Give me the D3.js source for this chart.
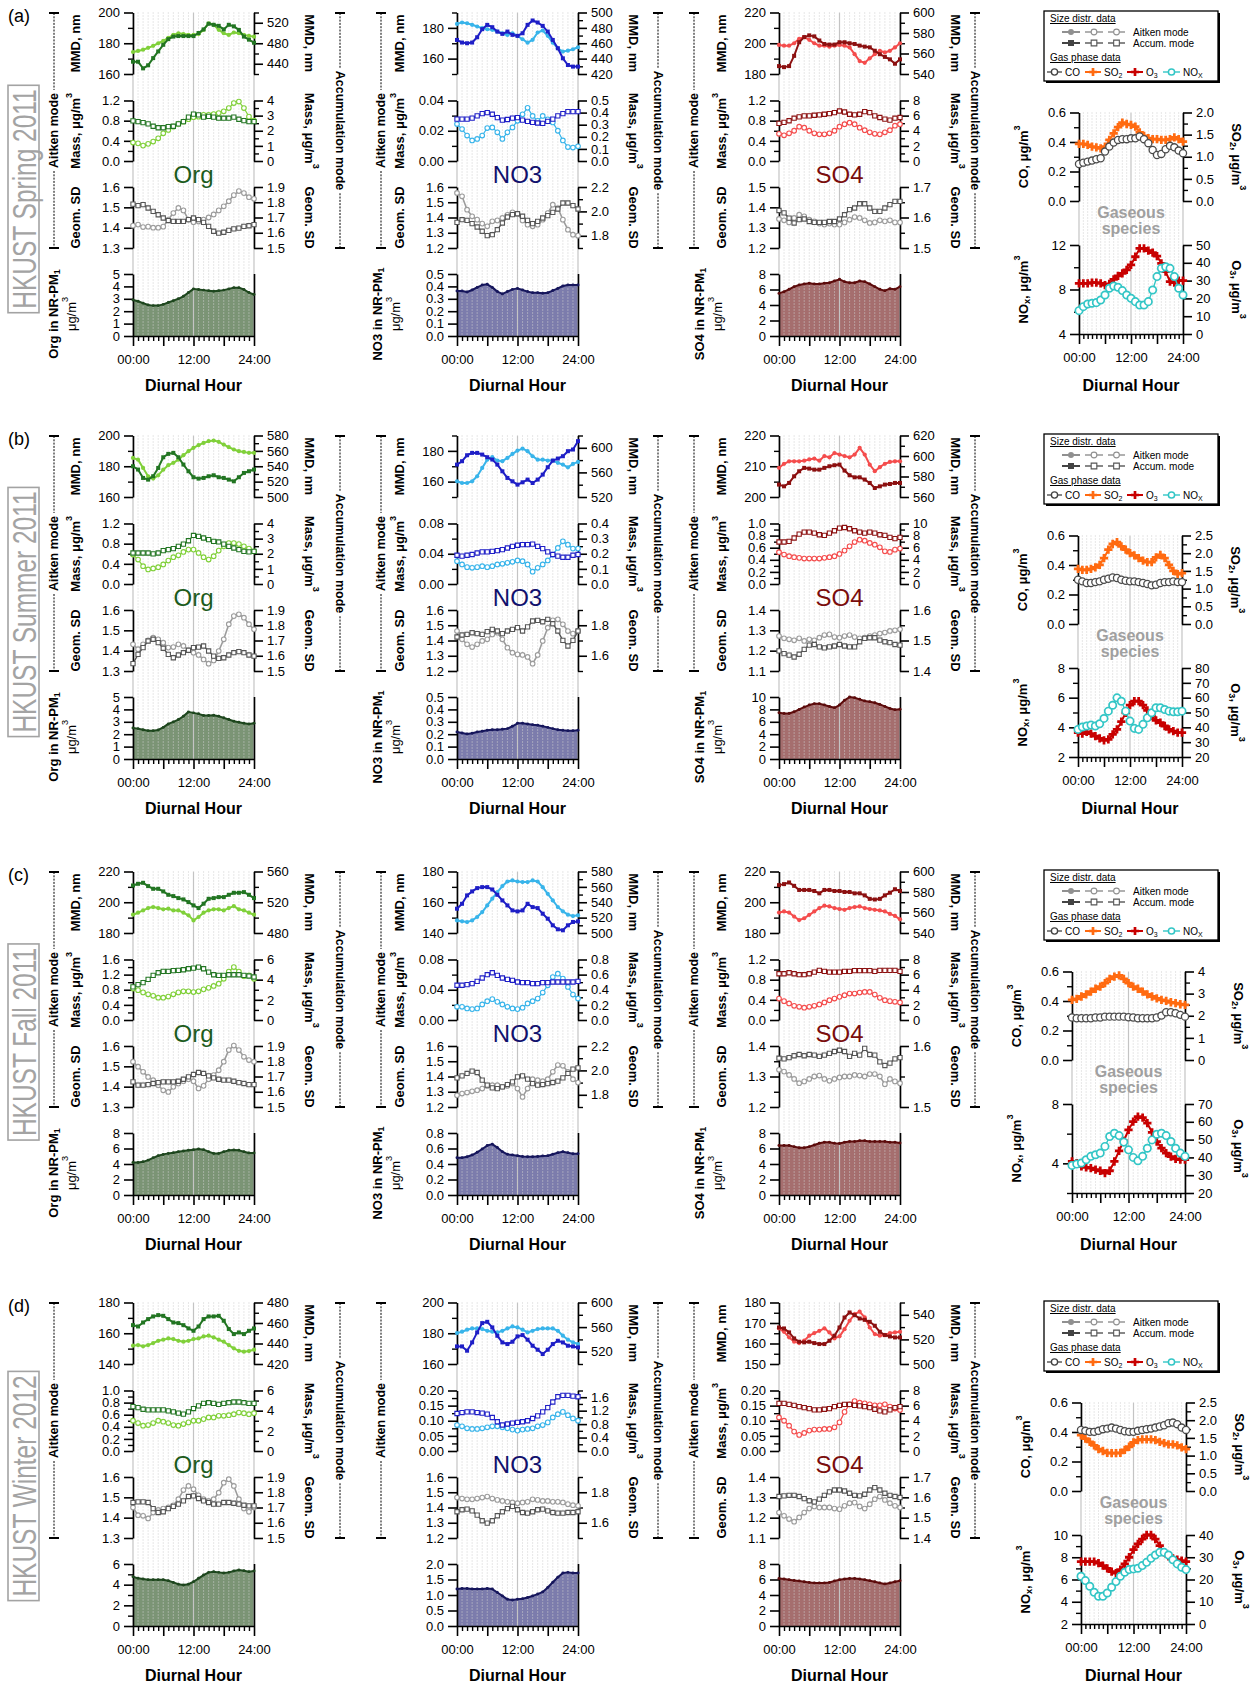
<!DOCTYPE html>
<html><head><meta charset="utf-8">
<script src="https://cdn.jsdelivr.net/npm/d3@7"></script>
<style>
body{margin:0;background:#fff;}
svg{display:block;font-family:"Liberation Sans",Arial,sans-serif;}
</style></head><body>
<svg id="c" width="1259" height="1684"></svg>
<script>
// ---------------- DATA ----------------
const HOURS = [0,1,2,3,4,5,6,7,8,9,10,11,12,13,14,15,16,17,18,19,20,21,22,23,24];
const TIME_TICKS = [0,12,24];
const TIME_TICK_LABELS = ['00:00','12:00','24:00'];
const SPECIES_NAMES = ['Org','NO3','SO4'];
const SEASONS = ['HKUST Spring 2011','HKUST Summer 2011','HKUST Fall 2011','HKUST Winter 2012'];
const PANEL_TAGS = ['(a)','(b)','(c)','(d)'];

// (a) Spring 2011
const spring_org_mmd_ait = [174.3,175,175.8,177,178.3,180,181.5,183.5,185.4,186.5,186,185.5,185.4,186,188.7,193,192,188.7,186.5,185.4,187,186.5,185.4,184.8,184.3];
const spring_org_mmd_acc = [444,444,431,437,451,464,477,488,493,494,494,494,494,500,507,518,516,514,507,516,513,506,493,487,481];
const spring_org_mass_ait = [0.365,0.35,0.305,0.34,0.385,0.45,0.55,0.615,0.68,0.735,0.78,0.83,0.87,0.88,0.915,0.915,0.93,0.95,0.985,1.05,1.15,1.18,1.05,0.88,0.8];
const spring_org_mass_acc = [2.65,2.6,2.54,2.45,2.3,2.2,2.2,2.27,2.3,2.45,2.6,2.9,3.1,3.05,2.9,2.95,2.9,2.83,2.83,2.83,2.9,2.76,2.67,2.6,2.6];
const spring_org_gsd_ait = [1.41,1.415,1.403,1.405,1.4,1.4,1.405,1.44,1.472,1.497,1.485,1.44,1.427,1.43,1.44,1.45,1.465,1.485,1.505,1.53,1.56,1.58,1.57,1.55,1.542];
const spring_org_gsd_acc = [1.788,1.778,1.784,1.762,1.74,1.718,1.697,1.68,1.675,1.675,1.675,1.686,1.697,1.686,1.668,1.642,1.61,1.598,1.603,1.616,1.625,1.63,1.642,1.646,1.653];
const spring_org_conc = [2.9,2.8,2.65,2.5,2.45,2.45,2.55,2.7,2.85,3.0,3.2,3.5,3.8,3.75,3.7,3.65,3.6,3.65,3.7,3.8,3.9,3.9,3.75,3.5,3.35];
const spring_no3_mmd_ait = [182.6,183.5,183,182,180.9,179.8,179.1,178.7,177.6,176.5,175.4,176.5,174.8,172.6,170.4,172.2,177,178.3,174.8,170.4,166.7,164.6,165.2,166.1,167.4];
const spring_no3_mmd_acc = [464.3,460.9,460,460.9,467.8,478.3,483.9,480.9,475.2,472.2,475.2,470.9,469.6,473,483.9,489.6,487,482.6,475.2,464.3,453.5,440.4,431.7,429.6,429.6];
const spring_no3_mass_ait = [0.0244,0.0211,0.0168,0.0136,0.0146,0.0168,0.0218,0.0222,0.019,0.0146,0.019,0.0222,0.0266,0.0309,0.0352,0.0298,0.0266,0.0298,0.0276,0.0255,0.02,0.0136,0.0092,0.0089,0.0097];
const spring_no3_mass_acc = [0.346,0.346,0.346,0.354,0.373,0.392,0.4,0.386,0.359,0.338,0.343,0.354,0.359,0.338,0.327,0.319,0.314,0.311,0.327,0.346,0.373,0.392,0.408,0.408,0.408];
const spring_no3_gsd_ait = [1.561,1.539,1.451,1.408,1.386,1.36,1.342,1.375,1.381,1.397,1.418,1.434,1.425,1.381,1.353,1.342,1.353,1.386,1.429,1.484,1.462,1.386,1.32,1.287,1.281];
const spring_no3_gsd_acc = [1.91,1.932,1.927,1.9,1.872,1.837,1.801,1.809,1.85,1.905,1.954,1.973,1.981,1.96,1.927,1.9,1.918,1.946,1.965,1.992,2.02,2.069,2.069,2.047,2.02];
const spring_no3_conc = [0.363,0.363,0.355,0.371,0.392,0.411,0.417,0.392,0.358,0.339,0.358,0.376,0.384,0.371,0.358,0.349,0.349,0.344,0.349,0.366,0.384,0.403,0.411,0.411,0.411];
const spring_so4_mmd_ait = [198.9,198.4,198.4,200,202.9,204,202.2,200,198.4,198.4,197.8,198.4,198.9,198.4,197.3,192.9,188.4,187.3,190.2,192.9,195.1,194,195.1,197.3,200];
const spring_so4_mmd_acc = [547.7,546.7,547.7,557.7,571,576,577.7,576.7,572.7,569.3,568.7,568.7,571,571,570,569.3,567.7,566.7,566,562.7,559.3,556.7,554.3,550,554.3];
const spring_so4_mass_ait = [0.54,0.51,0.55,0.6,0.68,0.66,0.6,0.55,0.53,0.53,0.55,0.6,0.68,0.73,0.76,0.73,0.66,0.61,0.57,0.54,0.53,0.57,0.61,0.7,0.73];
const spring_so4_mass_acc = [4.97,5.1,5.32,5.66,5.84,5.97,5.97,6.05,6.1,6.18,6.27,6.4,6.61,6.48,6.18,6.1,6.18,6.53,6.4,5.97,5.75,5.53,5.4,5.66,5.75];
const spring_so4_gsd_ait = [1.343,1.336,1.326,1.348,1.364,1.356,1.339,1.331,1.32,1.315,1.32,1.315,1.315,1.326,1.339,1.352,1.348,1.336,1.323,1.326,1.336,1.331,1.336,1.326,1.326];
const spring_so4_gsd_acc = [1.623,1.615,1.598,1.582,1.593,1.595,1.587,1.584,1.584,1.584,1.587,1.587,1.595,1.609,1.626,1.631,1.645,1.645,1.631,1.62,1.62,1.631,1.642,1.653,1.653];
const spring_so4_conc = [5.5,5.72,6.02,6.37,6.58,6.71,6.8,6.71,6.71,6.8,6.88,7.1,7.31,7.01,6.88,6.88,7.1,7.01,6.71,6.37,6.02,5.85,6.11,6.02,6.37];
const spring_co = [0.251,0.26,0.267,0.274,0.283,0.29,0.335,0.369,0.396,0.414,0.419,0.419,0.425,0.425,0.437,0.419,0.392,0.346,0.312,0.319,0.351,0.374,0.364,0.342,0.324];
const spring_so2 = [1.29,1.29,1.27,1.23,1.21,1.19,1.23,1.38,1.53,1.67,1.77,1.74,1.72,1.68,1.55,1.47,1.42,1.4,1.4,1.38,1.38,1.4,1.44,1.4,1.34];
const spring_o3 = [28.5,28.5,28.5,28.8,28.8,28.5,27.5,28.1,30.7,32.6,34.1,36,38.8,43.4,48.1,48.1,46.8,45.7,43.8,39.7,35,29.4,28.8,30,30];
const spring_nox = [6.1,6.46,6.7,6.76,6.82,7.06,7.51,8.11,8.32,8.2,7.9,7.51,7.21,6.91,6.61,6.61,6.91,7.96,9.16,9.9,10.05,9.9,9.16,8.11,7.51];

// (b) Summer 2011
const summer_org_mmd_ait = [185.4,184.3,178.9,173.5,172,174.1,177.8,180.7,182.2,184.3,187.2,189.8,192,193.7,195.2,196.3,196.7,195.9,194.1,192.4,190.9,189.8,189.3,188.7,188.7];
const summer_org_mmd_acc = [540,535.7,524.8,522.6,527,537.8,551.7,556.1,557.4,551.7,542.2,533.5,525.7,523.9,524.8,527,528.3,525.7,524.8,522.6,520.4,525.7,531.3,533.5,535.7];
const summer_org_mass_ait = [0.584,0.485,0.354,0.289,0.308,0.334,0.387,0.466,0.531,0.57,0.636,0.682,0.682,0.616,0.531,0.485,0.551,0.662,0.748,0.813,0.813,0.793,0.748,0.702,0.649];
const summer_org_mass_acc = [2.05,2.05,2.05,2.05,1.99,2.05,2.21,2.27,2.34,2.49,2.64,2.86,3.21,3.15,3.04,2.93,2.82,2.78,2.64,2.49,2.38,2.27,2.16,2.12,2.16];
const summer_org_gsd_ait = [1.431,1.407,1.431,1.451,1.464,1.456,1.439,1.415,1.418,1.431,1.423,1.402,1.39,1.379,1.357,1.336,1.352,1.398,1.456,1.53,1.57,1.579,1.562,1.53,1.505];
const summer_org_gsd_acc = [1.548,1.609,1.653,1.697,1.708,1.686,1.649,1.609,1.587,1.605,1.62,1.636,1.653,1.657,1.664,1.631,1.598,1.583,1.587,1.605,1.62,1.627,1.62,1.605,1.598];
const summer_org_conc = [2.5,2.45,2.36,2.28,2.28,2.34,2.55,2.83,2.99,3.18,3.45,3.8,3.72,3.64,3.51,3.51,3.53,3.45,3.32,3.18,3.04,2.96,2.88,2.83,2.88];
const summer_no3_mmd_ait = [160.2,159.1,159.1,160.2,163.5,168.9,174.3,175.9,173.7,173.3,175.4,178,180.2,181.5,179.8,176.5,174.3,174.3,173.7,173.7,172.2,171.1,169.3,171.5,172.8];
const summer_no3_mmd_acc = [572.7,578.2,587.9,591.7,591.7,589,584.7,580.9,572.7,561.8,551,545.5,540.1,543.9,548.3,542.8,548.3,556.4,568.4,579.2,582.5,586.3,594.5,597.2,610.8];
const summer_no3_mass_ait = [0.0302,0.0258,0.0223,0.0214,0.0223,0.0236,0.0223,0.0236,0.0258,0.0267,0.028,0.0293,0.0311,0.0302,0.0258,0.0162,0.0214,0.0258,0.0311,0.0389,0.0477,0.0564,0.052,0.0468,0.0468];
const summer_no3_mass_acc = [0.19,0.184,0.19,0.195,0.205,0.212,0.212,0.216,0.221,0.227,0.238,0.249,0.256,0.26,0.26,0.264,0.249,0.234,0.212,0.195,0.184,0.177,0.177,0.19,0.195];
const summer_no3_gsd_ait = [1.462,1.408,1.375,1.357,1.375,1.397,1.408,1.44,1.451,1.408,1.353,1.32,1.309,1.305,1.292,1.248,1.305,1.397,1.484,1.532,1.539,1.506,1.462,1.445,1.462];
const summer_no3_gsd_acc = [1.723,1.736,1.74,1.751,1.745,1.74,1.758,1.773,1.762,1.745,1.762,1.773,1.784,1.762,1.789,1.828,1.832,1.823,1.839,1.81,1.762,1.701,1.664,1.701,1.762];
const summer_no3_conc = [0.217,0.209,0.201,0.207,0.217,0.223,0.231,0.236,0.236,0.239,0.245,0.264,0.288,0.288,0.283,0.277,0.272,0.264,0.255,0.245,0.236,0.231,0.228,0.228,0.231];
const summer_so4_mmd_ait = [209.5,210.8,211.6,211.6,211.6,211.8,212.2,212.5,211.8,213.3,212.9,214.3,213.8,213.3,212.9,213.8,216,213.8,210.5,208.4,209.7,210.8,211.4,211.6,211.6];
const summer_so4_mmd_acc = [572.1,570.4,573.7,580.2,585.1,588.4,587.7,586.7,586.7,588.4,590,591,591.6,585.8,581.2,579.2,579.2,577,573.7,568.8,570.4,572.1,572.7,573.7,573.7];
const summer_so4_mass_ait = [0.525,0.486,0.459,0.443,0.432,0.421,0.421,0.421,0.421,0.432,0.443,0.459,0.497,0.552,0.623,0.694,0.732,0.716,0.678,0.65,0.607,0.541,0.53,0.568,0.585];
const summer_so4_mass_acc = [6.94,6.94,7.05,7.6,8.25,8.58,8.58,8.42,8.14,8.03,8.42,8.8,9.23,9.34,9.13,8.8,8.58,8.42,8.58,8.42,8.14,8.03,7.7,7.49,7.7];
const summer_so4_gsd_ait = [1.272,1.261,1.256,1.251,1.261,1.248,1.256,1.251,1.264,1.277,1.28,1.267,1.264,1.272,1.277,1.267,1.261,1.264,1.272,1.277,1.284,1.289,1.297,1.3,1.305];
const summer_so4_gsd_acc = [1.466,1.457,1.452,1.446,1.455,1.471,1.485,1.487,1.479,1.476,1.479,1.482,1.487,1.482,1.479,1.479,1.496,1.507,1.509,1.509,1.501,1.496,1.493,1.487,1.485];
const summer_so4_conc = [7.45,7.34,7.34,7.61,7.99,8.37,8.7,8.91,8.91,8.7,8.48,8.26,8.7,9.46,10,9.89,9.62,9.35,9.24,9.08,8.8,8.48,8.15,7.93,8.04];
const summer_co = [0.3,0.289,0.278,0.278,0.284,0.289,0.3,0.307,0.316,0.312,0.3,0.293,0.289,0.289,0.284,0.278,0.271,0.262,0.266,0.278,0.284,0.284,0.289,0.284,0.284];
const summer_so2 = [1.56,1.53,1.53,1.56,1.6,1.67,1.86,2.1,2.26,2.31,2.19,2.1,2,1.94,1.86,1.79,1.75,1.75,1.88,1.95,1.86,1.67,1.5,1.41,1.44];
const summer_o3 = [36.4,35.7,37,35.7,34.1,32.6,31.2,31.9,35.3,38.6,43.8,49.8,54.9,57.6,57.6,54.9,51.4,47.6,44.7,43.1,40.9,38.6,37.5,36.4,36.4];
const summer_nox = [3.86,4.02,4.09,4.15,4.09,4.24,4.6,5.09,5.49,5.99,5.76,5.09,4.42,3.93,3.86,4.2,4.64,4.98,5.32,5.32,5.2,5.09,5.05,5.05,5.09];

// (c) Fall 2011
const fall_org_mmd_ait = [191.9,193.2,194.7,196.2,196.9,196.2,195.4,195.8,194.7,194.7,193.2,191.5,188.2,190.4,193.2,194.7,195.4,195.4,194.7,196.2,197.5,195.4,194.7,193.2,191.9];
const fall_org_mmd_acc = [541.8,544,545.3,541,537.5,537.5,534.1,529.7,528,525.4,523.7,520.2,515.9,512.4,518.1,524.5,525.4,526.7,526.7,529.7,532.3,532.3,533.2,529.7,525.4];
const fall_org_mass_ait = [0.83,0.79,0.73,0.68,0.64,0.59,0.59,0.62,0.68,0.73,0.76,0.76,0.74,0.76,0.81,0.85,0.9,0.96,1.09,1.28,1.4,1.28,1.16,1.18,1.09];
const fall_org_mass_acc = [3.28,3.51,3.7,4.03,4.43,4.69,4.82,4.82,4.89,4.92,4.98,5.08,5.15,5.25,5.08,4.75,4.49,4.43,4.43,4.49,4.49,4.49,4.43,4.36,4.26];
const fall_org_gsd_ait = [1.523,1.498,1.473,1.448,1.432,1.407,1.382,1.374,1.399,1.415,1.427,1.437,1.427,1.391,1.404,1.437,1.457,1.481,1.523,1.58,1.602,1.58,1.547,1.531,1.523];
const fall_org_gsd_acc = [1.665,1.643,1.643,1.647,1.654,1.66,1.665,1.665,1.665,1.669,1.682,1.698,1.713,1.726,1.72,1.704,1.691,1.682,1.676,1.676,1.669,1.66,1.654,1.647,1.647];
const fall_org_conc = [4.19,4.19,4.28,4.5,4.8,5.07,5.24,5.37,5.46,5.59,5.68,5.76,5.85,5.94,5.85,5.59,5.37,5.37,5.59,5.76,5.81,5.76,5.59,5.41,5.41];
const fall_no3_mmd_ait = [148.2,147.6,147.1,148.2,150.4,153.6,157.9,162.3,166.6,170.5,173.5,174.2,173.5,173.1,173.1,174.2,173.5,169.8,165.5,161.2,156.9,154.1,151.9,151,151.5];
const fall_no3_mmd_acc = [531.6,538,548.9,554.1,558.4,559.7,559.7,556.6,549.7,542.4,535.9,529.4,528.1,529.4,538,533.7,532.4,525.1,518.6,510,504.8,503.5,510,514.3,515.1];
const fall_no3_mass_ait = [0.0175,0.0175,0.0153,0.0144,0.0153,0.0205,0.0249,0.0276,0.024,0.0205,0.0175,0.0153,0.0144,0.0162,0.0219,0.0249,0.0284,0.0363,0.0459,0.0568,0.0612,0.0547,0.0437,0.0337,0.0284];
const fall_no3_mass_acc = [0.459,0.459,0.468,0.481,0.511,0.555,0.599,0.625,0.59,0.555,0.538,0.525,0.503,0.494,0.494,0.481,0.481,0.494,0.494,0.503,0.503,0.503,0.503,0.503,0.511];
const fall_no3_gsd_ait = [1.277,1.288,1.295,1.303,1.31,1.321,1.338,1.343,1.343,1.332,1.338,1.354,1.321,1.266,1.321,1.382,1.376,1.369,1.382,1.431,1.475,1.47,1.431,1.382,1.36];
const fall_no3_gsd_acc = [1.939,1.955,1.975,1.994,1.983,1.92,1.879,1.857,1.851,1.865,1.884,1.906,1.947,1.955,1.928,1.892,1.879,1.884,1.892,1.901,1.912,1.939,1.975,2.01,2.021];
const fall_no3_conc = [0.481,0.481,0.494,0.516,0.551,0.594,0.638,0.656,0.612,0.559,0.525,0.516,0.507,0.498,0.494,0.494,0.498,0.503,0.507,0.525,0.546,0.559,0.546,0.533,0.533];
const fall_so4_mmd_ait = [193.3,194,193.3,190.7,188.4,189.6,191.8,194,196.2,197.8,197.3,196.2,195.6,195.1,196.2,196.9,197.3,196.2,195.6,195.1,194.7,194,192.4,191.1,188.9];
const fall_so4_mmd_acc = [586.7,587.7,589.3,586,582,582,582,581,578.7,582,582,581,581,580,580,578.7,578.7,576.7,573.3,572.7,573.3,576.7,579.3,582.7,581];
const fall_so4_mass_ait = [0.426,0.374,0.328,0.282,0.262,0.243,0.262,0.282,0.308,0.348,0.393,0.426,0.459,0.492,0.525,0.525,0.544,0.557,0.557,0.505,0.439,0.393,0.374,0.361,0.348];
const fall_so4_mass_acc = [6.12,6.12,6.25,6.12,5.99,5.99,6.12,6.34,6.56,6.43,6.34,6.34,6.34,6.43,6.43,6.52,6.52,6.52,6.52,6.43,6.56,6.56,6.56,6.56,6.43];
const fall_so4_gsd_ait = [1.322,1.316,1.305,1.292,1.278,1.284,1.292,1.3,1.303,1.292,1.286,1.292,1.297,1.3,1.3,1.305,1.303,1.3,1.308,1.308,1.3,1.275,1.292,1.284,1.278];
const fall_so4_gsd_acc = [1.58,1.579,1.581,1.584,1.586,1.584,1.586,1.585,1.583,1.585,1.588,1.591,1.593,1.591,1.583,1.588,1.585,1.596,1.586,1.585,1.574,1.568,1.572,1.579,1.581];
const fall_so4_conc = [6.38,6.38,6.38,6.24,6.11,6.11,6.24,6.46,6.68,6.81,6.81,6.68,6.64,6.81,6.9,6.9,6.99,6.99,6.9,6.9,6.9,6.9,6.81,6.81,6.72];
const fall_co = [0.288,0.283,0.283,0.283,0.283,0.288,0.288,0.294,0.294,0.294,0.294,0.294,0.29,0.288,0.283,0.283,0.283,0.283,0.288,0.301,0.324,0.324,0.317,0.306,0.294];
const fall_so2 = [2.72,2.76,2.87,2.97,3.09,3.22,3.32,3.47,3.67,3.77,3.82,3.67,3.47,3.32,3.22,3.09,2.97,2.87,2.79,2.72,2.67,2.61,2.57,2.52,2.49];
const fall_o3 = [37.7,36.8,34.9,34.4,34,33.1,32.5,31.2,32.5,37.7,43.7,49.3,55.4,60.1,62.9,62.4,59.2,54.1,48.9,45.2,42.4,40.5,39.2,38.7,38.7];
const fall_nox = [3.86,3.95,4.02,4.24,4.47,4.58,4.69,5.14,5.81,6.03,5.87,5.43,4.91,4.4,4.17,4.47,5.02,5.58,5.96,6.03,5.87,5.47,5.02,4.69,4.47];

// (d) Winter 2012
const winter_org_mmd_ait = [151.9,152.3,151.5,152.3,153.6,155.1,155.8,156.6,156.2,155.1,154.5,155.1,156.2,156.6,157.9,158.4,157.3,155.8,154.5,152.3,150.2,148.6,148,148.4,149.3];
const winter_org_mmd_acc = [457.9,456.6,460.5,463.8,466.4,467.7,467,463.8,460.5,459.9,457.9,454.7,452.4,456.6,463.8,466.4,466.4,467,462.2,454.1,449.2,450.8,449.2,452.4,454.7];
const winter_org_mass_ait = [0.5,0.462,0.418,0.429,0.462,0.5,0.484,0.462,0.429,0.418,0.446,0.473,0.5,0.5,0.527,0.554,0.554,0.582,0.582,0.592,0.609,0.636,0.625,0.609,0.625];
const winter_org_mass_acc = [4.4,4.3,4.14,4.08,4.08,4.08,4.08,3.98,3.88,3.75,3.65,3.88,4.21,4.47,4.73,4.79,4.73,4.63,4.73,4.79,4.86,4.86,4.79,4.73,4.73];
const winter_org_gsd_ait = [1.45,1.412,1.409,1.396,1.425,1.438,1.445,1.45,1.461,1.491,1.536,1.556,1.54,1.51,1.491,1.483,1.491,1.523,1.572,1.589,1.556,1.491,1.445,1.429,1.45];
const winter_org_gsd_acc = [1.733,1.737,1.737,1.733,1.693,1.667,1.672,1.693,1.707,1.722,1.743,1.772,1.776,1.759,1.743,1.733,1.722,1.722,1.733,1.733,1.728,1.722,1.715,1.711,1.711];
const winter_org_conc = [4.77,4.61,4.54,4.48,4.48,4.48,4.48,4.38,4.22,4.05,3.96,4.05,4.28,4.61,4.93,5.19,5.26,5.19,5.13,5.19,5.32,5.42,5.35,5.26,5.32];
const winter_no3_mmd_ait = [180.1,181,182.3,183.1,183.1,182.7,181.6,181,180.5,181.6,183.1,184.4,183.8,182.3,180.5,181.6,182.7,183.1,183.1,183.1,181.6,178.4,175.8,174.1,173];
const winter_no3_mmd_acc = [528.6,528.6,521.6,535.1,551.4,566.5,568.6,559.5,545.9,535.1,532.4,536.2,544.9,547,539.5,529.7,523.2,516.2,523.2,532.4,537.8,535.1,529.7,528.6,527];
const winter_no3_mass_ait = [0.0859,0.0815,0.075,0.0728,0.0728,0.075,0.0783,0.0815,0.0815,0.0783,0.075,0.0707,0.0674,0.0707,0.0728,0.075,0.0815,0.0859,0.0946,0.1109,0.1217,0.1293,0.1185,0.1076,0.1];
const winter_no3_mass_acc = [1.115,1.144,1.164,1.164,1.144,1.125,1.095,0.998,0.87,0.773,0.802,0.831,0.851,0.87,0.9,0.968,1.047,1.164,1.291,1.458,1.614,1.653,1.653,1.634,1.614];
const winter_no3_gsd_ait = [1.465,1.459,1.454,1.454,1.459,1.465,1.472,1.459,1.45,1.443,1.437,1.433,1.428,1.433,1.437,1.454,1.45,1.443,1.443,1.437,1.437,1.433,1.422,1.415,1.411];
const winter_no3_gsd_acc = [1.672,1.685,1.689,1.678,1.65,1.613,1.598,1.613,1.646,1.672,1.693,1.707,1.685,1.667,1.663,1.672,1.685,1.689,1.678,1.667,1.663,1.663,1.667,1.667,1.672];
const winter_no3_conc = [1.19,1.21,1.21,1.19,1.19,1.19,1.21,1.19,1.08,0.97,0.86,0.84,0.86,0.88,0.92,0.97,1.03,1.1,1.24,1.41,1.57,1.71,1.73,1.71,1.71];
const winter_so4_mmd_ait = [167.4,165.7,163,160.9,160.2,161.4,163.8,165.1,166.2,167.4,165.4,162.5,163.5,167,171.1,174.3,175.5,172.7,167.8,164.6,163.8,164.1,165.1,165.4,165.7];
const winter_so4_mmd_acc = [529.7,528.9,525.7,520.8,518.1,517.6,518.1,517,516.2,516.2,518.9,523,529.7,537.8,541.9,539.7,537,535.9,534.3,531.1,526.2,523.5,522.4,521.6,521.6];
const winter_so4_mass_ait = [0.1109,0.1,0.0837,0.0641,0.0533,0.0598,0.0674,0.0707,0.0707,0.0728,0.0728,0.0783,0.0946,0.1293,0.1543,0.1652,0.1598,0.1576,0.1543,0.1511,0.1511,0.1543,0.1467,0.1402,0.1359];
const winter_so4_mass_acc = [6.3,6.3,6.17,6.04,5.87,5.74,5.61,5.43,5.43,5.52,5.61,5.87,6.04,6.17,6.17,6.04,5.96,5.87,5.74,5.52,5.3,5.17,5.43,5.74,5.87];
const winter_so4_gsd_ait = [1.225,1.209,1.193,1.18,1.201,1.225,1.245,1.255,1.25,1.25,1.25,1.245,1.242,1.258,1.271,1.274,1.255,1.245,1.266,1.291,1.304,1.287,1.271,1.258,1.25];
const winter_so4_gsd_acc = [1.604,1.607,1.61,1.61,1.604,1.594,1.583,1.578,1.591,1.61,1.627,1.636,1.636,1.631,1.62,1.61,1.607,1.615,1.636,1.648,1.636,1.62,1.61,1.604,1.599];
const winter_so4_conc = [6.14,6.05,5.97,5.88,5.8,5.71,5.62,5.54,5.54,5.54,5.62,5.8,5.97,6.05,6.14,6.14,6.05,5.97,5.84,5.71,5.54,5.41,5.54,5.71,5.84];
const winter_co = [0.414,0.408,0.401,0.401,0.408,0.419,0.423,0.43,0.423,0.414,0.405,0.401,0.401,0.408,0.414,0.419,0.423,0.43,0.437,0.446,0.46,0.464,0.453,0.43,0.414];
const winter_so2 = [1.58,1.48,1.39,1.29,1.18,1.13,1.08,1.07,1.07,1.08,1.16,1.25,1.37,1.44,1.46,1.46,1.46,1.44,1.39,1.35,1.32,1.32,1.29,1.23,1.18];
const winter_o3 = [28,28,28,28,27.4,26.2,25,23.5,22.9,24.4,27,30,33.4,36,38.2,40,40,38.2,35.2,32.2,30.4,29.5,28.9,28.5,28];
const winter_nox = [6.29,5.9,5.39,4.85,4.49,4.49,4.79,5.3,5.81,6.29,6.65,6.89,6.95,7.01,7.25,7.54,7.9,8.2,8.44,8.44,8.2,7.78,7.4,7.1,6.89];

// axis specs: domain, labelled ticks, minor step, decimals
function A(d0,d1,t,m,f){return {d:[d0,d1],t:t,m:m,f:f};}
const GSD_ORG_L = A(1.3,1.6,[1.3,1.4,1.5,1.6],0,1), GSD_ORG_R = A(1.5,1.9,[1.5,1.6,1.7,1.8,1.9],0,1);
const AXES = {
 spring:{
  org:{mmdL:A(160,200,[160,180,200],10,0),mmdR:A(420,540,[440,480,520],20,0),massL:A(0,1.2,[0,0.4,0.8,1.2],0.2,1),massR:A(0,4,[0,1,2,3,4],0.5,0),gsdL:GSD_ORG_L,gsdR:GSD_ORG_R,conc:A(0,5,[0,1,2,3,4,5],0,0)},
  no3:{mmdL:A(150,190,[160,180],10,0),mmdR:A(420,500,[420,440,460,480,500],10,0),massL:A(0,0.04,[0,0.02,0.04],0.01,2),massR:A(0,0.5,[0,0.1,0.2,0.3,0.4,0.5],0,1),gsdL:A(1.2,1.6,[1.2,1.3,1.4,1.5,1.6],0,1),gsdR:A(1.7,2.2,[1.8,2.0,2.2],0.1,1),conc:A(0,0.5,[0,0.1,0.2,0.3,0.4,0.5],0,1)},
  so4:{mmdL:A(180,220,[180,200,220],10,0),mmdR:A(540,600,[540,560,580,600],10,0),massL:A(0,1.2,[0,0.4,0.8,1.2],0.2,1),massR:A(0,8,[0,2,4,6,8],1,0),gsdL:A(1.2,1.5,[1.2,1.3,1.4,1.5],0,1),gsdR:A(1.5,1.7,[1.5,1.6,1.7],0.05,1),conc:A(0,8,[0,2,4,6,8],0,0)},
  gas:{co:A(0,0.6,[0,0.2,0.4,0.6],0.1,1),so2:A(0,2,[0,0.5,1,1.5,2],0.25,1),nox:A(4,12,[4,8,12],2,0),o3:A(0,50,[0,10,20,30,40,50],0,0)}
 },
 summer:{
  org:{mmdL:A(160,200,[160,180,200],10,0),mmdR:A(500,580,[500,520,540,560,580],10,0),massL:A(0,1.2,[0,0.4,0.8,1.2],0.2,1),massR:A(0,4,[0,1,2,3,4],0.5,0),gsdL:GSD_ORG_L,gsdR:GSD_ORG_R,conc:A(0,5,[0,1,2,3,4,5],0,0)},
  no3:{mmdL:A(150,190,[160,180],10,0),mmdR:A(520,620,[520,560,600],20,0),massL:A(0,0.08,[0,0.04,0.08],0.02,2),massR:A(0,0.4,[0,0.1,0.2,0.3,0.4],0.05,1),gsdL:A(1.2,1.6,[1.2,1.3,1.4,1.5,1.6],0,1),gsdR:A(1.5,1.9,[1.6,1.8],0.1,1),conc:A(0,0.5,[0,0.1,0.2,0.3,0.4,0.5],0,1)},
  so4:{mmdL:A(200,220,[200,210,220],5,0),mmdR:A(560,620,[560,580,600,620],10,0),massL:A(0,1.0,[0,0.2,0.4,0.6,0.8,1.0],0.1,1),massR:A(0,10,[0,2,4,6,8,10],1,0),gsdL:A(1.1,1.4,[1.1,1.2,1.3,1.4],0,1),gsdR:A(1.4,1.6,[1.4,1.5,1.6],0.05,1),conc:A(0,10,[0,2,4,6,8,10],0,0)},
  gas:{co:A(0,0.6,[0,0.2,0.4,0.6],0.1,1),so2:A(0,2.5,[0,0.5,1,1.5,2,2.5],0.25,1),nox:A(2,8,[2,4,6,8],1,0),o3:A(20,80,[20,30,40,50,60,70,80],0,0)}
 },
 fall:{
  org:{mmdL:A(180,220,[180,200,220],10,0),mmdR:A(480,560,[480,520,560],20,0),massL:A(0,1.6,[0,0.4,0.8,1.2,1.6],0.2,1),massR:A(0,6,[0,2,4,6],1,0),gsdL:GSD_ORG_L,gsdR:GSD_ORG_R,conc:A(0,8,[0,2,4,6,8],0,0)},
  no3:{mmdL:A(140,180,[140,160,180],10,0),mmdR:A(500,580,[500,520,540,560,580],10,0),massL:A(0,0.08,[0,0.04,0.08],0.02,2),massR:A(0,0.8,[0,0.2,0.4,0.6,0.8],0.1,1),gsdL:A(1.2,1.6,[1.2,1.3,1.4,1.5,1.6],0,1),gsdR:A(1.7,2.2,[1.8,2.0,2.2],0.1,1),conc:A(0,0.8,[0,0.2,0.4,0.6,0.8],0,1)},
  so4:{mmdL:A(180,220,[180,200,220],10,0),mmdR:A(540,600,[540,560,580,600],10,0),massL:A(0,1.2,[0,0.4,0.8,1.2],0.2,1),massR:A(0,8,[0,2,4,6,8],1,0),gsdL:A(1.2,1.4,[1.2,1.3,1.4],0.05,1),gsdR:A(1.5,1.6,[1.5,1.6],0.05,1),conc:A(0,8,[0,2,4,6,8],0,0)},
  gas:{co:A(0,0.6,[0,0.2,0.4,0.6],0.1,1),so2:A(0,4,[0,1,2,3,4],0.5,0),nox:A(2,8,[4,8],2,0),o3:A(20,70,[20,30,40,50,60,70],0,0)}
 },
 winter:{
  org:{mmdL:A(140,180,[140,160,180],10,0),mmdR:A(420,480,[420,440,460,480],10,0),massL:A(0,1.0,[0,0.2,0.4,0.6,0.8,1.0],0.1,1),massR:A(0,6,[0,2,4,6],1,0),gsdL:GSD_ORG_L,gsdR:GSD_ORG_R,conc:A(0,6,[0,2,4,6],1,0)},
  no3:{mmdL:A(160,200,[160,180,200],10,0),mmdR:A(500,600,[520,560,600],20,0),massL:A(0,0.2,[0,0.05,0.1,0.15,0.2],0.025,2),massR:A(0,1.8,[0,0.4,0.8,1.2,1.6],0.2,1),gsdL:A(1.2,1.6,[1.2,1.3,1.4,1.5,1.6],0,1),gsdR:A(1.5,1.9,[1.6,1.8],0.1,1),conc:A(0,2,[0,0.5,1,1.5,2],0,1)},
  so4:{mmdL:A(150,180,[150,160,170,180],5,0),mmdR:A(500,550,[500,520,540],10,0),massL:A(0,0.2,[0,0.05,0.1,0.15,0.2],0.025,2),massR:A(0,8,[0,2,4,6,8],1,0),gsdL:A(1.1,1.4,[1.1,1.2,1.3,1.4],0,1),gsdR:A(1.4,1.7,[1.4,1.5,1.6,1.7],0.05,1),conc:A(0,8,[0,2,4,6,8],0,0)},
  gas:{co:A(0,0.6,[0,0.2,0.4,0.6],0.1,1),so2:A(0,2.5,[0,0.5,1,1.5,2,2.5],0.25,1),nox:A(2,10,[2,4,6,8,10],1,0),o3:A(0,40,[0,10,20,30,40],5,0)}
 }
};

function pack(mA,mC,sA,sC,gA,gC,c){return {mmdAit:mA,mmdAcc:mC,massAit:sA,massAcc:sC,gsdAit:gA,gsdAcc:gC,conc:c};}
const DATA = {
 spring:{org:pack(spring_org_mmd_ait,spring_org_mmd_acc,spring_org_mass_ait,spring_org_mass_acc,spring_org_gsd_ait,spring_org_gsd_acc,spring_org_conc),
         no3:pack(spring_no3_mmd_ait,spring_no3_mmd_acc,spring_no3_mass_ait,spring_no3_mass_acc,spring_no3_gsd_ait,spring_no3_gsd_acc,spring_no3_conc),
         so4:pack(spring_so4_mmd_ait,spring_so4_mmd_acc,spring_so4_mass_ait,spring_so4_mass_acc,spring_so4_gsd_ait,spring_so4_gsd_acc,spring_so4_conc),
         gas:{co:spring_co,so2:spring_so2,o3:spring_o3,nox:spring_nox}},
 summer:{org:pack(summer_org_mmd_ait,summer_org_mmd_acc,summer_org_mass_ait,summer_org_mass_acc,summer_org_gsd_ait,summer_org_gsd_acc,summer_org_conc),
         no3:pack(summer_no3_mmd_ait,summer_no3_mmd_acc,summer_no3_mass_ait,summer_no3_mass_acc,summer_no3_gsd_ait,summer_no3_gsd_acc,summer_no3_conc),
         so4:pack(summer_so4_mmd_ait,summer_so4_mmd_acc,summer_so4_mass_ait,summer_so4_mass_acc,summer_so4_gsd_ait,summer_so4_gsd_acc,summer_so4_conc),
         gas:{co:summer_co,so2:summer_so2,o3:summer_o3,nox:summer_nox}},
 fall:{org:pack(fall_org_mmd_ait,fall_org_mmd_acc,fall_org_mass_ait,fall_org_mass_acc,fall_org_gsd_ait,fall_org_gsd_acc,fall_org_conc),
       no3:pack(fall_no3_mmd_ait,fall_no3_mmd_acc,fall_no3_mass_ait,fall_no3_mass_acc,fall_no3_gsd_ait,fall_no3_gsd_acc,fall_no3_conc),
       so4:pack(fall_so4_mmd_ait,fall_so4_mmd_acc,fall_so4_mass_ait,fall_so4_mass_acc,fall_so4_gsd_ait,fall_so4_gsd_acc,fall_so4_conc),
       gas:{co:fall_co,so2:fall_so2,o3:fall_o3,nox:fall_nox}},
 winter:{org:pack(winter_org_mmd_ait,winter_org_mmd_acc,winter_org_mass_ait,winter_org_mass_acc,winter_org_gsd_ait,winter_org_gsd_acc,winter_org_conc),
         no3:pack(winter_no3_mmd_ait,winter_no3_mmd_acc,winter_no3_mass_ait,winter_no3_mass_acc,winter_no3_gsd_ait,winter_no3_gsd_acc,winter_no3_conc),
         so4:pack(winter_so4_mmd_ait,winter_so4_mmd_acc,winter_so4_mass_ait,winter_so4_mass_acc,winter_so4_gsd_ait,winter_so4_gsd_acc,winter_so4_conc),
         gas:{co:winter_co,so2:winter_so2,o3:winter_o3,nox:winter_nox}}
};

// ---------------- LAYOUT / STYLE ----------------
const ROWS = [
 {key:'spring', y:0,    boxCY:199,  gx:[1079,1183], leftTitles:[true,true,true],  concTitles:true},
 {key:'summer', y:423,  boxCY:612,  gx:[1078,1182], leftTitles:[true,true,true],  concTitles:true},
 {key:'fall',   y:859,  boxCY:1042, gx:[1072,1185], leftTitles:[true,true,true],  concTitles:true},
 {key:'winter', y:1290, boxCY:1486, gx:[1081,1186], leftTitles:[false,false,true],concTitles:false}
];
const COLS = [
 {key:'org', x0:133, x1:254, bl:54,  br:340, lab:'#1d5c1d', ait:'#80d03a', acc:'#227522', fill:'#7b9475', line:'#1d461d', conc:'Org'},
 {key:'no3', x0:457, x1:578, bl:381, br:658, lab:'#11116d', ait:'#38b4ea', acc:'#1e1ec6', fill:'#7c7cac', line:'#16165c', conc:'NO3'},
 {key:'so4', x0:779, x1:900, bl:694, br:975, lab:'#7a0d0d', ait:'#f44c4c', acc:'#8c1010', fill:'#a56e6e', line:'#5c0b0b', conc:'SO4'}
];
const SUB = {mmd:[12.5,74], mass:[100.5,161], gsd:[187,248], conc:[274,336]};
const GSUB = {top:[112.5,201], bot:[245,334]};
const FONT = '"Liberation Sans",Arial,sans-serif';

const svg = d3.select('#c');
svg.append('rect').attr('width',1259).attr('height',1684).attr('fill','#fff');
const gBack = svg.append('g'), gGrid = svg.append('g'), gAxes = svg.append('g'), gSer = svg.append('g'), gTxt = svg.append('g');

function fmt(f){return f===0?d3.format('d'):d3.format('.'+f+'f');}
function yAxis(scale, spec, side, x){
  const mk = side==='left'?d3.axisLeft:d3.axisRight;
  const g = gAxes.append('g').attr('transform',`translate(${x},0)`)
    .call(mk(scale).tickValues(spec.t).tickFormat(fmt(spec.f)).tickSize(9).tickSizeOuter(0).tickPadding(4));
  g.attr('font-size',13).attr('font-family',FONT);
  g.selectAll('.domain,.tick line').attr('stroke','#000').attr('stroke-width',1.6);
  g.selectAll('.tick text').attr('fill','#000');
  if(spec.m){
    const vals=[]; const n=Math.round((spec.d[1]-spec.d[0])/spec.m);
    for(let i=0;i<=n;i++){const v=spec.d[0]+i*spec.m; if(!spec.t.some(t=>Math.abs(t-v)<1e-9)) vals.push(v);}
    const gm = gAxes.append('g').attr('transform',`translate(${x},0)`)
      .call(mk(scale).tickValues(vals).tickFormat('').tickSize(5).tickSizeOuter(0));
    gm.select('.domain').remove();
    gm.selectAll('.tick line').attr('stroke','#000').attr('stroke-width',1.4);
  }
}
function xAxis(scale, y){
  const g = gAxes.append('g').attr('transform',`translate(0,${y})`)
    .call(d3.axisBottom(scale).tickValues([0,6,12,18,24]).tickFormat(d=>{const i=TIME_TICKS.indexOf(d);return i>=0?TIME_TICK_LABELS[i]:'';}).tickSize(10).tickSizeOuter(0).tickPadding(9));
  g.attr('font-size',13).attr('font-family',FONT);
  g.selectAll('.domain,.tick line').attr('stroke','#000').attr('stroke-width',1.6);
  g.selectAll('.tick text').attr('fill','#000');
  const gm = gAxes.append('g').attr('transform',`translate(0,${y})`)
    .call(d3.axisBottom(scale).tickValues(HOURS.filter(h=>h%6!==0)).tickFormat('').tickSize(5).tickSizeOuter(0));
  gm.select('.domain').remove();
  gm.selectAll('.tick line').attr('stroke','#000').attr('stroke-width',1.4);
}
function grid(scale, y0, y1){
  HOURS.forEach(h=>{
    const solid = h%12===0;
    gGrid.append('line').attr('x1',scale(h)).attr('x2',scale(h)).attr('y1',y0).attr('y2',y1)
      .attr('stroke',solid?'#c4c4c4':'#cfcfcf').attr('stroke-width',solid?1.2:1)
      .attr('stroke-dasharray',solid?null:'1,2');
  });
}
function vtitle(x,y,rot,parts,opts={}){
  const t = gTxt.append('text').attr('transform',`translate(${x},${y}) rotate(${rot})`)
    .attr('text-anchor','middle').attr('dominant-baseline','central')
    .attr('font-size',opts.size||13).attr('font-weight',opts.weight||'bold').attr('font-family',FONT).attr('fill',opts.fill||'#000');
  let shift=0;
  parts.forEach(([s,mode])=>{
    const ts = t.append('tspan').text(s);
    let target = mode==='sup'?-6:(mode==='sub'?4:0);
    ts.attr('dy',target-shift); shift=target;
    if(mode) ts.attr('font-size',(opts.size||13)*0.7);
  });
  return t;
}
const UG = [['μg/m',null],['3','sup']];
function bracket(x,y0,y1,label,rot){
  const yc=(y0+y1)/2;
  const t = gTxt.append('text').attr('transform',`translate(${x},${yc}) rotate(${rot})`)
    .attr('text-anchor','middle').attr('dominant-baseline','central')
    .attr('font-size',12.5).attr('font-weight','bold').attr('font-family',FONT).text(label);
  const L = t.node().getComputedTextLength();
  [[y0,yc-L/2-3],[yc+L/2+3,y1]].forEach(([a,b])=>{
    gTxt.append('line').attr('x1',x).attr('x2',x).attr('y1',a).attr('y2',b).attr('stroke','#000').attr('stroke-width',1).attr('stroke-dasharray','2,1.3');
  });
  [y0,y1].forEach(yy=>gTxt.append('line').attr('x1',x-5).attr('x2',x+5).attr('y1',yy).attr('y2',yy).attr('stroke','#000').attr('stroke-width',2));
}
function series(xs, ys, vals, o){
  gSer.append('path').attr('d',d3.line().x((d,i)=>xs(HOURS[i])).y(d=>ys(d))(vals))
    .attr('fill','none').attr('stroke',o.line).attr('stroke-width',o.lw).attr('stroke-linejoin','round');
  const sym = d3.symbol().type(o.sym).size(o.size);
  gSer.append('g').selectAll('path').data(vals).join('path')
    .attr('transform',(d,i)=>`translate(${xs(HOURS[i])},${ys(d)})`).attr('d',sym)
    .attr('fill',o.fill).attr('stroke',o.stroke||'none').attr('stroke-width',o.sw||0);
}

ROWS.forEach((row,ri)=>{
  const oy=row.y, ax=AXES[row.key], dat=DATA[row.key];
  gTxt.append('text').attr('x',8).attr('y',oy+22).attr('font-size',18).attr('font-family',FONT).text(PANEL_TAGS[ri]);
  const st = gTxt.append('text').attr('transform',`translate(23.5,${row.boxCY}) rotate(-90) scale(0.72,1)`)
    .attr('text-anchor','middle').attr('dominant-baseline','central').attr('font-size',34).attr('font-family',FONT)
    .attr('fill','#a3a3a3').text(SEASONS[ri]);
  const SL = st.node().getComputedTextLength()*0.72;
  gTxt.append('rect').attr('x',8).attr('y',row.boxCY-SL/2-4).attr('width',31).attr('height',SL+8)
    .attr('fill','none').attr('stroke','#a3a3a3').attr('stroke-width',1.6);

  COLS.forEach((col,ci)=>{
    const a=ax[col.key], d=dat[col.key];
    const x = d3.scaleLinear().domain([0,24]).range([col.x0,col.x1]);
    const sc = (spec,sub)=>d3.scaleLinear().domain(spec.d).range([oy+SUB[sub][1],oy+SUB[sub][0]]);
    const yML=sc(a.mmdL,'mmd'), yMR=sc(a.mmdR,'mmd'), ySL=sc(a.massL,'mass'), ySR=sc(a.massR,'mass'),
          yGL=sc(a.gsdL,'gsd'), yGR=sc(a.gsdR,'gsd'), yC=sc(a.conc,'conc');
    gBack.append('path').attr('d',d3.area().x((v,i)=>x(HOURS[i])).y0(yC(a.conc.d[0])).y1(v=>yC(v))(d.conc)).attr('fill',col.fill);
    grid(x, oy+SUB.mmd[0], oy+SUB.conc[1]);
    yAxis(yML,a.mmdL,'left',col.x0); yAxis(yMR,a.mmdR,'right',col.x1);
    yAxis(ySL,a.massL,'left',col.x0); yAxis(ySR,a.massR,'right',col.x1);
    yAxis(yGL,a.gsdL,'left',col.x0); yAxis(yGR,a.gsdR,'right',col.x1);
    yAxis(yC,a.conc,'left',col.x0);
    gAxes.append('line').attr('x1',col.x1+0.5).attr('x2',col.x1+0.5).attr('y1',oy+SUB.conc[0]).attr('y2',oy+SUB.conc[1]).attr('stroke','#000').attr('stroke-width',1.6);
    xAxis(x, oy+SUB.conc[1]);
    gTxt.append('text').attr('x',(col.x0+col.x1)/2).attr('y',oy+391).attr('text-anchor','middle')
      .attr('font-size',16).attr('font-weight','bold').attr('font-family',FONT).text('Diurnal Hour');
    series(x,yML,d.mmdAit,{line:col.ait,lw:2,sym:d3.symbolCircle,size:14,fill:col.ait});
    series(x,yMR,d.mmdAcc,{line:col.acc,lw:2,sym:d3.symbolSquare,size:16,fill:col.acc});
    series(x,ySL,d.massAit,{line:col.ait,lw:1.2,sym:d3.symbolCircle,size:17,fill:'#fff',stroke:col.ait,sw:1.1});
    series(x,ySR,d.massAcc,{line:col.acc,lw:1.2,sym:d3.symbolSquare,size:18,fill:'#fff',stroke:col.acc,sw:1.1});
    series(x,yGL,d.gsdAit,{line:'#9c9c9c',lw:1.6,sym:d3.symbolCircle,size:17,fill:'#fff',stroke:'#9c9c9c',sw:1.1});
    series(x,yGR,d.gsdAcc,{line:'#555',lw:1.4,sym:d3.symbolSquare,size:18,fill:'#fff',stroke:'#555',sw:1.1});
    series(x,yC,d.conc,{line:col.line,lw:2,sym:d3.symbolCircle,size:7,fill:col.line});
    gTxt.append('text').attr('x',(col.x0+col.x1)/2).attr('y',oy+183).attr('text-anchor','middle')
      .attr('font-size',24).attr('font-family',FONT).attr('fill',col.lab).text(SPECIES_NAMES[ci]);
    const mc=(s)=>oy+(SUB[s][0]+SUB[s][1])/2;
    if(row.leftTitles[ci]){
      vtitle(col.x0-58,mc('mmd'),-90,[['MMD, nm',null]]);
      vtitle(col.x0-58,mc('mass'),-90,[['Mass, ',null]].concat(UG));
      vtitle(col.x0-58,mc('gsd'),-90,[['Geom. SD',null]]);
    }
    vtitle(col.x1+56,mc('mmd'),90,[['MMD, nm',null]]);
    vtitle(col.x1+56,mc('mass'),90,[['Mass, ',null]].concat(UG));
    vtitle(col.x1+56,mc('gsd'),90,[['Geom. SD',null]]);
    if(row.concTitles){
      vtitle(col.x0-80,oy+314,-90,[[col.conc+' in NR-PM',null],['1','sub']]);
      vtitle(col.x0-62,oy+314,-90,UG,{weight:'normal'});
    }
    bracket(col.bl,oy+13,oy+248,'Aitken mode',-90);
    bracket(col.br,oy+13,oy+248,'Accumulation mode',90);
  });

  // ---- gas column ----
  const ga=ax.gas, gd=dat.gas;
  const gx = d3.scaleLinear().domain([0,24]).range(row.gx);
  const gsc=(spec,sub)=>d3.scaleLinear().domain(spec.d).range([oy+GSUB[sub][1],oy+GSUB[sub][0]]);
  const yCO=gsc(ga.co,'top'), ySO2=gsc(ga.so2,'top'), yNOX=gsc(ga.nox,'bot'), yO3=gsc(ga.o3,'bot');
  grid(gx, oy+GSUB.top[0], oy+GSUB.bot[1]);
  yAxis(yCO,ga.co,'left',row.gx[0]); yAxis(ySO2,ga.so2,'right',row.gx[1]);
  yAxis(yNOX,ga.nox,'left',row.gx[0]); yAxis(yO3,ga.o3,'right',row.gx[1]);
  xAxis(gx, oy+GSUB.bot[1]);
  gTxt.append('text').attr('x',(row.gx[0]+row.gx[1])/2).attr('y',oy+391).attr('text-anchor','middle')
    .attr('font-size',16).attr('font-weight','bold').attr('font-family',FONT).text('Diurnal Hour');
  ['Gaseous','species'].forEach((s,i)=>gTxt.append('text').attr('x',(row.gx[0]+row.gx[1])/2).attr('y',oy+218+i*16)
    .attr('text-anchor','middle').attr('font-size',16).attr('font-weight','bold').attr('font-family',FONT).attr('fill','#a0a0a0').text(s));
  series(gx,ySO2,gd.so2,{line:'#ff6a10',lw:2,sym:d3.symbolCross,size:38,fill:'#ff6a10'});
  series(gx,yCO,gd.co,{line:'#555',lw:1,sym:d3.symbolCircle,size:40,fill:'#fff',stroke:'#4a4a4a',sw:1.3});
  series(gx,yO3,gd.o3,{line:'#c80000',lw:2,sym:d3.symbolCross,size:38,fill:'#c80000'});
  series(gx,yNOX,gd.nox,{line:'#33c6c6',lw:1.4,sym:d3.symbolCircle,size:42,fill:'#fff',stroke:'#33c6c6',sw:1.7});
  const gc=(s)=>oy+(GSUB[s][0]+GSUB[s][1])/2;
  vtitle(row.gx[0]-56,gc('top'),-90,[['CO, ',null]].concat(UG));
  vtitle(row.gx[1]+54,gc('top'),90,[['SO',null],['2','sub'],[', μg/m',null],['3','sup']]);
  vtitle(row.gx[0]-56,gc('bot'),-90,[['NO',null],['x','sub'],[', μg/m',null],['3','sup']]);
  vtitle(row.gx[1]+54,gc('bot'),90,[['O',null],['3','sub'],[', μg/m',null],['3','sup']]);

  // ---- legend ----
  const L=1044, T=oy+11, lg=gTxt.append('g');
  lg.append('rect').attr('x',L+2).attr('y',T+2).attr('width',174).attr('height',70).attr('fill','#000');
  lg.append('rect').attr('x',L).attr('y',T).attr('width',174).attr('height',70).attr('fill','#fff').attr('stroke','#000').attr('stroke-width',1.3);
  const ltxt=(x,y,s)=>lg.append('text').attr('x',x).attr('y',y).attr('font-size',10).attr('font-family',FONT).text(s);
  ltxt(L+6,T+11,'Size distr. data').attr('text-decoration','underline');
  ltxt(L+6,T+50,'Gas phase data').attr('text-decoration','underline');
  ltxt(L+89,T+24.5,'Aitken mode'); ltxt(L+89,T+35.5,'Accum. mode');
  function litem(x0,x1,y,color,lw,type,size,fill,stroke,sw){
    lg.append('line').attr('x1',x0).attr('x2',x1).attr('y1',y).attr('y2',y).attr('stroke',color).attr('stroke-width',lw);
    lg.append('path').attr('transform',`translate(${(x0+x1)/2},${y})`).attr('d',d3.symbol().type(type).size(size)())
      .attr('fill',fill).attr('stroke',stroke||'none').attr('stroke-width',sw||0);
  }
  litem(L+18,L+36,T+21,'#909090',2,d3.symbolCircle,28,'#909090');
  litem(L+41,L+59,T+21,'#909090',1.4,d3.symbolCircle,26,'#fff','#909090',1.1);
  litem(L+64,L+81,T+21,'#909090',1.4,d3.symbolCircle,26,'#fff','#909090',1.1);
  litem(L+18,L+36,T+32,'#444',2,d3.symbolSquare,36,'#444');
  litem(L+41,L+59,T+32,'#555',1.4,d3.symbolSquare,32,'#fff','#555',1.1);
  litem(L+64,L+81,T+32,'#555',1.4,d3.symbolSquare,32,'#fff','#555',1.1);
  litem(L+3,L+18,T+61,'#444',1.3,d3.symbolCircle,30,'#fff','#444',1.3);
  litem(L+41,L+57,T+61,'#ff6a10',2,d3.symbolCross,36,'#ff6a10');
  litem(L+83,L+99,T+61,'#c80000',2,d3.symbolCross,36,'#c80000');
  litem(L+119,L+136,T+61,'#33c6c6',1.4,d3.symbolCircle,30,'#fff','#33c6c6',1.5);
  const gl=(x,parts)=>{const t=lg.append('text').attr('x',x).attr('y',T+64.5).attr('font-size',10).attr('font-family',FONT);
    let sh=0; parts.forEach(([s,sub])=>{const ts=t.append('tspan').text(s); const tg=sub?2.5:0; ts.attr('dy',tg-sh); sh=tg; if(sub) ts.attr('font-size',7);});};
  gl(L+21,[['CO',0]]); gl(L+60,[['SO',0],['2',1]]); gl(L+102,[['O',0],['3',1]]); gl(L+139,[['NO',0],['X',1]]);
});
</script>
</body></html>
